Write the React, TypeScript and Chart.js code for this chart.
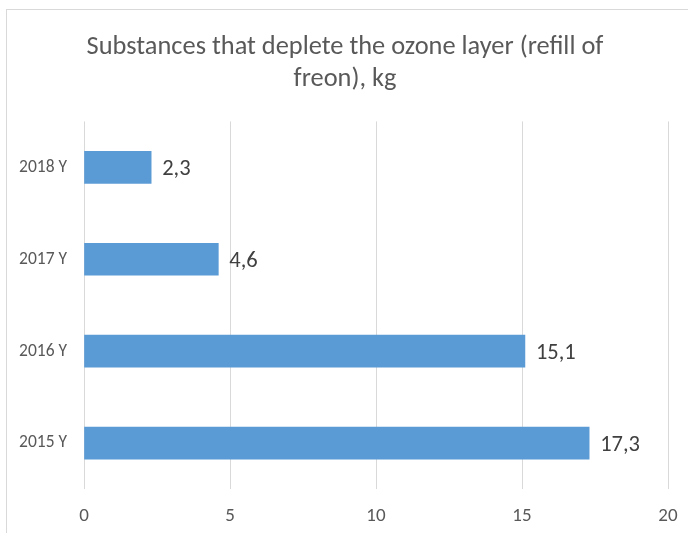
import React, { useEffect, useRef } from "react";
import { Chart, registerables } from "chart.js";

Chart.register(...registerables);

const categories = ["2018 Y", "2017 Y", "2016 Y", "2015 Y"];
const values = [2.3, 4.6, 15.1, 17.3];
const titleLines = ["Substances that deplete the ozone layer (refill of", "freon), kg"];
const xTicks = [0, 5, 10, 15, 20];

const FONT = "Carlito, 'Liberation Sans Narrow', 'Open Sans', sans-serif";

const valueLabels = {
  id: "valueLabels",
  afterDatasetsDraw(chart: any) {
    const ctx = chart.ctx;
    const meta = chart.getDatasetMeta(0);
    ctx.save();
    ctx.font = `22.5px ${FONT}`;
    ctx.fillStyle = "#404040";
    ctx.textAlign = "left";
    ctx.textBaseline = "middle";
    meta.data.forEach((bar: any, i: number) => {
      const v = chart.data.datasets[0].data[i] as number;
      ctx.fillText(v.toFixed(1).replace(".", ","), bar.x + 11, bar.y + 2);
    });
    ctx.restore();
  },
};

export default function App() {
  const ref = useRef<HTMLCanvasElement>(null);
  useEffect(() => {
    if (!ref.current) return;
    const chart = new Chart(ref.current, {
      type: "bar",
      data: {
        labels: categories,
        datasets: [
          {
            data: values,
            backgroundColor: "#5b9bd5",
            barThickness: 32,
          },
        ],
      },
      options: {
        indexAxis: "y",
        animation: false,
        responsive: false,
        maintainAspectRatio: false,
        layout: { padding: { left: 2, right: 0, top: 0, bottom: 0 } },
        plugins: {
          legend: { display: false },
          tooltip: { enabled: false },
          title: {
            display: true,
            text: titleLines,
            color: "#595959",
            font: { family: FONT, size: 26.4, weight: "normal", lineHeight: 1.22 },
            padding: { top: 31, bottom: 26 },
          },
        },
        scales: {
          x: {
            min: 0,
            max: 20,
            afterBuildTicks(scale: any) {
              scale.ticks = xTicks.map((v) => ({ value: v }));
            },
            afterFit(scale: any) {
              scale.height = 44;
              scale.paddingLeft = 0;
              scale.paddingRight = 20;
            },
            grid: { color: "#d9d9d9", lineWidth: 1, drawTicks: false },
            border: { display: false },
            ticks: {
              color: "#595959",
              font: { family: FONT, size: 19 },
              padding: 16,
            },
          },
          y: {
            afterFit(scale: any) {
              scale.width = 82;
            },
            grid: { display: false, drawTicks: false },
            border: { display: false },
            ticks: {
              color: "#595959",
              font: { family: FONT, size: 17.5 },
              padding: 17,
            },
          },
        },
      },
      plugins: [valueLabels],
    });
    return () => chart.destroy();
  }, []);

  return (
    <div
      style={{
        position: "absolute",
        left: 0,
        top: 0,
        width: 688,
        height: 533,
        overflow: "hidden",
        background: "#ffffff",
      }}
    >
      <div
        style={{
          position: "absolute",
          left: 6,
          top: 9,
          width: 682,
          height: 524,
          borderTop: "1px solid #d9d9d9",
          borderLeft: "1px solid #d9d9d9",
          boxSizing: "border-box",
        }}
      />
      <canvas
        ref={ref}
        width={688}
        height={533}
        style={{ position: "absolute", left: 0, top: 0, width: 688, height: 533 }}
      />
    </div>
  );
}
